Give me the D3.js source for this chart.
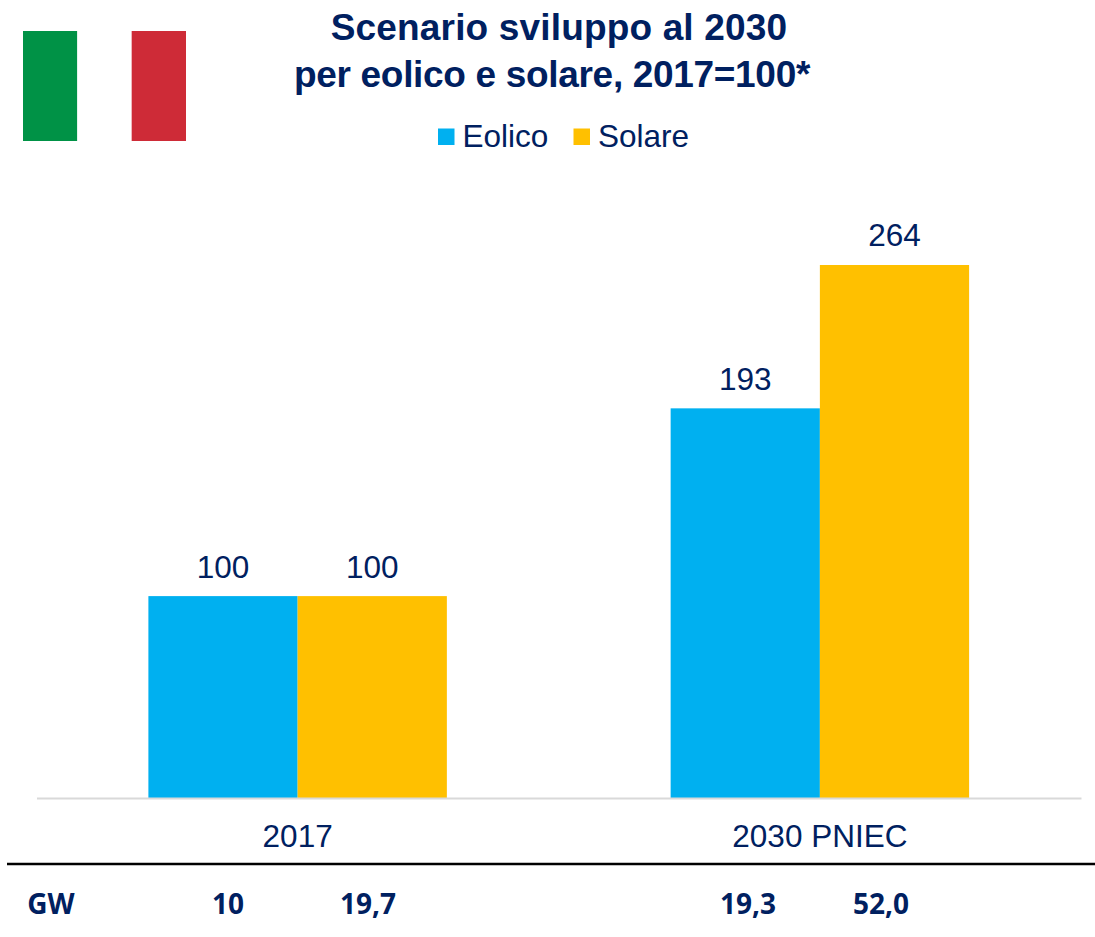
<!DOCTYPE html>
<html><head><meta charset="utf-8">
<script src="https://cdn.jsdelivr.net/npm/d3@7"></script>
<style>html,body{margin:0;padding:0;background:#fff}svg{display:block}text{font-family:"Liberation Sans",Arial,sans-serif;fill:#002060}</style>
</head><body><svg id="c" width="1095" height="937"></svg>
<script>
const titleLines = ["Scenario sviluppo al 2030", "per eolico e solare, 2017=100*"];
const categories = ["2017", "2030 PNIEC"];
const seriesNames = ["Eolico", "Solare"];
const seriesColors = ["#00B0F0", "#FFC000"];
const eolico = [100, 193];
const solare = [100, 264];
const gwLabel = "GW";
const gwEolico = ["10", "19,3"];
const gwSolare = ["19,7", "52,0"];
const flagColors = ["#009246", "#FFFFFF", "#CE2B37"];
const flagStripes = ["verde", "bianco", "rosso"];

const svg = d3.select("#c");
const x0 = d3.scaleBand().domain(categories).range([36.5, 1081]);
const groupW = x0.bandwidth() * 0.5715;
const x1 = d3.scaleBand().domain(seriesNames).range([0, groupW]);
const y = d3.scaleLinear().domain([0, 264]).range([798, 265]);
const values = [eolico, solare];

// flag
const flagX = d3.scaleBand().domain(flagStripes).range([23, 186]);
svg.selectAll("rect.flag").data(flagStripes).join("rect").attr("class", "flag")
  .attr("x", d => flagX(d)).attr("y", 31).attr("width", flagX.bandwidth()).attr("height", 110)
  .attr("fill", (d, i) => flagColors[i]);

// title
const titleCx = [559, 552], titleY = [40, 87], titleSpacing = [0.16, -0.32];
svg.selectAll("text.title").data(titleLines).join("text").attr("class", "title")
  .attr("x", (d, i) => titleCx[i]).attr("y", (d, i) => titleY[i]).attr("text-anchor", "middle")
  .attr("font-size", 37).attr("font-weight", "bold")
  .attr("letter-spacing", (d, i) => titleSpacing[i]).text(d => d);

// legend
const legendX = [438, 573.5];
seriesNames.forEach((s, i) => {
  svg.append("rect").attr("x", legendX[i]).attr("y", 128.5).attr("width", 16.5).attr("height", 16.5).attr("fill", seriesColors[i]);
  svg.append("text").attr("x", legendX[i] + 24.5).attr("y", 147).attr("font-size", 31.5).text(s);
});

// bars + labels
categories.forEach((c, ci) => {
  const left = x0(c) + (x0.bandwidth() - groupW) / 2;
  seriesNames.forEach((s, si) => {
    const v = values[si][ci];
    svg.append("rect").attr("x", left + x1(s)).attr("y", y(v))
      .attr("width", x1.bandwidth()).attr("height", y(0) - y(v)).attr("fill", seriesColors[si]);
    svg.append("text").attr("x", left + x1(s) + x1.bandwidth() / 2).attr("y", y(v) - (v === 264 ? 19 : 18))
      .attr("text-anchor", "middle").attr("font-size", 31.5).text(v);
  });
});

// axis
const axis = svg.append("g").attr("transform", `translate(0,${y(0)})`)
  .call(d3.axisBottom(x0).tickSize(0).tickPadding(26.5));
axis.select(".domain").attr("stroke", "#D9D9D9").attr("stroke-width", 2);
axis.selectAll("text").attr("font-size", 31.5).attr("font-family", '"Liberation Sans"').attr("fill", "#002060");

// rule
svg.append("line").attr("x1", 7).attr("x2", 1095).attr("y1", 864).attr("y2", 864).attr("stroke", "#000").attr("stroke-width", 2.5);

// GW row
const gwX = [[228, 748], [368, 881]];
const gwText = (t, xp, anchor) => svg.append("text").attr("x", xp).attr("y", 914).attr("text-anchor", anchor)
  .style("font-family", '"Open Sans"').attr("font-size", 28).attr("font-weight", "bold").text(t);
gwText(gwLabel, 51, "middle");
categories.forEach((c, i) => { gwText(gwEolico[i], gwX[0][i], "middle"); gwText(gwSolare[i], gwX[1][i], "middle"); });
</script></body></html>
